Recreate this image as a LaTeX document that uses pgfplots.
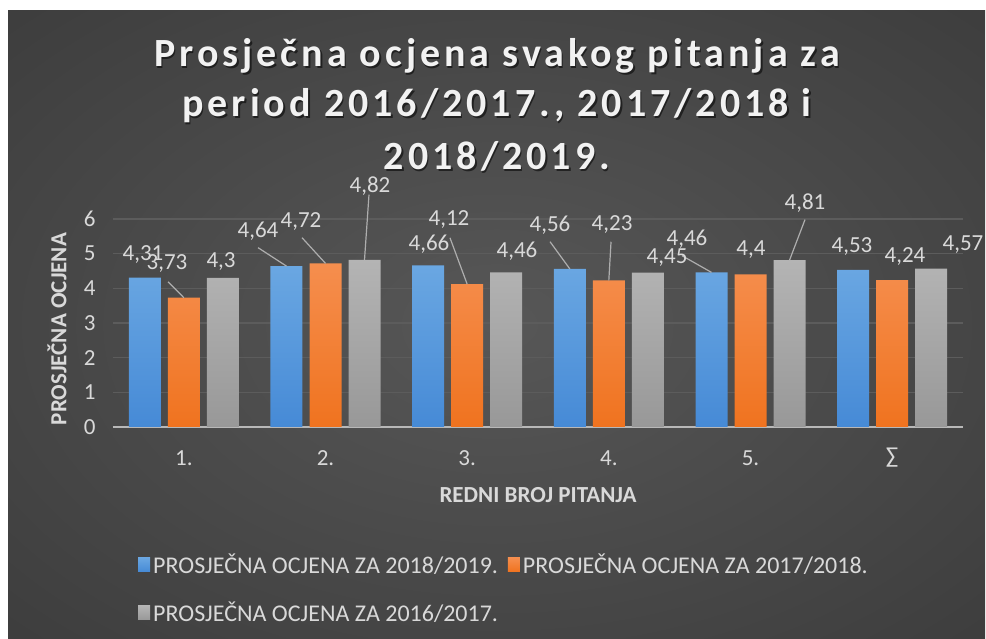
\documentclass[border=0pt]{standalone}
\usepackage{pgfplots}
\pgfplotsset{compat=1.18}
\usepackage{pgfplotstable}
\usepackage{fontspec}
\setmainfont{Carlito}
\newfontfamily\titlefont[LetterSpace=10]{Carlito}
\definecolor{bgin}{HTML}{575757}
\definecolor{bgmid}{HTML}{333333}
\definecolor{bgout}{HTML}{282828}
\definecolor{blueTop}{HTML}{6AA7E2}
\definecolor{blueBot}{HTML}{468AD6}
\definecolor{orTop}{HTML}{F58E4E}
\definecolor{orBot}{HTML}{F0731F}
\definecolor{grTop}{HTML}{B4B4B4}
\definecolor{grBot}{HTML}{989898}
\definecolor{txt}{HTML}{D9D9D9}
\definecolor{gridc}{HTML}{5C5C5C}
\pgfdeclareradialshading{bgshade}{\pgfpoint{0bp}{0bp}}{color(0bp)=(bgin); color(50bp)=(bgmid); color(72bp)=(bgout)}
\newcommand\lbl{\fontsize{23}{27}\selectfont}
\newcommand\leg{\fontsize{24}{28}\selectfont}

\pgfplotstableread{
x y dx dy
0 4.31 -1.8 22.9
1 4.64 -28.5 34.5
2 4.66 0.8 20.8
3 4.56 -19.8 44.2
4 4.46 -24.5 32.7
5 4.53 -1.2 23.3
}\tblue
\pgfplotstableread{
x y dx dy
0 3.73 -16.8 33.9
1 4.72 -24.5 41.7
2 4.12 -18.2 64.4
3 4.23 3.2 55.6
4 4.40 0.5 24.8
5 4.24 12.8 23.3
}\torange
\pgfplotstableread{
x y dx dy
0 4.30 -1.8 16.2
1 4.82 5.5 74.2
2 4.46 10.8 20.7
3 4.45 19.2 15.0
4 4.81 15.5 57.6
5 4.57 31.8 23.9
}\tgray

\begin{document}
\begin{tikzpicture}[x=1pt,y=1pt]
\useasboundingbox (0,0) rectangle (986,639);
\fill[white] (0,0) rectangle (986,639);
\shade[shading=bgshade] (8,0) rectangle (985,628);
% title
\foreach \yy/\tt in {572/{Prosječna ocjena svakog pitanja za},522/{period 2016/2017., 2017/2018 i},469/{2018/2019.}}{
  \node[anchor=base, inner sep=0, text=black, opacity=0.55] at (498.5,\yy-1.5) {\titlefont\bfseries\fontsize{40}{46}\selectfont \tt};
  \node[anchor=base, inner sep=0, text=white!95!black] at (497,\yy) {\titlefont\bfseries\fontsize{40}{46}\selectfont \tt};
}
\begin{axis}[
  at={(113pt,212pt)}, anchor=south west,
  scale only axis, width=850pt, height=208pt,
  xmin=-0.5, xmax=5.5, ymin=0, ymax=6,
  clip=false,
  axis line style={draw=none},
  major tick length=0pt,
  ytick={0,1,2,3,4,5,6},
  ymajorgrids, grid style={color=gridc, line width=1.5pt},
  extra y ticks={0}, extra y tick labels={},
  extra y tick style={grid style={color=txt!85!black, line width=2.2pt}},
  xtick={0,1,2,3,4,5},
  xticklabels={1.,2.,3.,4.,5.,∑},
  /pgf/number format/assume math mode=true,
  /pgf/number format/use comma,
  /pgf/number format/fixed,
  /pgf/number format/precision=2,
  yticklabel style={font=\lbl, text=txt, anchor=east, xshift=-14pt},
  xticklabel style={font=\lbl, text=txt, anchor=center, yshift=-31pt},
  xlabel={\textbf{REDNI BROJ PITANJA}},
  ylabel={\textbf{PROSJEČNA OCJENA}},
  xlabel style={font=\lbl, text=txt, at={(axis description cs:0.5,-0.327)}, anchor=center},
  ylabel style={font=\lbl, text=txt, at={(axis description cs:-0.0659,0.471)}, anchor=center},
  ybar=7pt, bar width=32pt,
  nodes near coords,
  visualization depends on={\thisrow{dx} \as \dx},
  visualization depends on={\thisrow{dy} \as \dy},
  every node near coord/.append style={font=\lbl, text=txt, anchor=center, xshift=\dx pt, yshift=\dy pt},
  legend image code/.code={\fill[#1] (0pt,-7pt) rectangle (12pt,7pt);},
  legend style={at={(0.0259,-0.591)}, anchor=north west, draw=none, fill=none,
    font=\leg, text=txt, legend columns=2, row sep=23pt,
    /tikz/every even column/.append style={column sep=7pt},
    nodes={inner xsep=3pt}},
  legend cell align=left,
]
\addplot[draw=none, top color=blueTop, bottom color=blueBot] table[x=x,y=y] {\tblue};
\addplot[draw=none, top color=orTop, bottom color=orBot] table[x=x,y=y] {\torange};
\addplot[draw=none, top color=grTop, bottom color=grBot] table[x=x,y=y] {\tgray};
\legend{PROSJEČNA OCJENA ZA 2018/2019.,PROSJEČNA OCJENA ZA 2017/2018.,PROSJEČNA OCJENA ZA 2016/2017.}
\begin{scope}[draw=txt!80!black, line width=1.2pt]
\draw (axis cs:0,3.73) -- ++(-15.8pt,15.9pt);
\draw (axis cs:0.7247,4.64) -- ++(-28.5pt,18.5pt);
\draw (axis cs:1,4.72) -- ++(-23.5pt,25.7pt);
\draw (axis cs:1.2753,4.82) -- ++(4.5pt,65.2pt);
\draw (axis cs:2,4.12) -- ++(-17.2pt,46.4pt);
\draw (axis cs:2.7247,4.56) -- ++(-19.8pt,27.2pt);
\draw (axis cs:3,4.23) -- ++(2.2pt,38.6pt);
\draw (axis cs:3.7247,4.46) -- ++(-29.5pt,16.7pt);
\draw (axis cs:4.2753,4.81) -- ++(15.5pt,40.6pt);
\end{scope}
\end{axis}
\end{tikzpicture}
\end{document}
